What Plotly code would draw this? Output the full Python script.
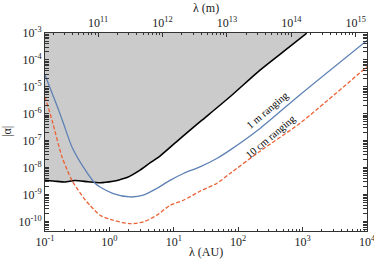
import math
import plotly.graph_objects as go

AU_M = 1.495978707e11

# Excluded region boundary (black)
bound_au = [0.1, 0.143, 0.205, 0.292, 0.466, 0.715, 1.14, 1.46, 1.88, 2.99, 4.27, 6.1,
            11.1, 17.9, 27.4, 74.6, 218, 497, 1160]
bound_alpha = [3.4e-9, 3.15e-9, 2.96e-9, 3.34e-9, 3.0e-9, 2.77e-9, 3.15e-9, 3.6e-9, 4.3e-9,
               8.1e-9, 1.5e-8, 2.7e-8, 9.3e-8, 2.48e-7, 5.8e-7, 4.3e-6, 4.2e-5, 2.0e-4, 9.8e-4]

# 1 m ranging (blue)
m1_au = [0.1, 0.1285, 0.163, 0.205, 0.262, 0.423, 0.604, 0.715, 1.15, 2.09, 3.36, 5.42,
         8.73, 14.1, 25.5, 46.4, 74.6, 218, 912, 10000]
m1_alpha = [2.75e-5, 5.9e-6, 1.37e-6, 2.95e-7, 5.9e-8, 8.1e-9, 2.6e-9, 1.93e-9, 1.1e-9,
            8.2e-10, 9.5e-10, 1.69e-9, 3.4e-9, 6.1e-9, 1.07e-8, 2.2e-8, 4.5e-8, 2.86e-7,
            5.1e-6, 5.3e-4]

# 10 cm ranging (orange dashed)
cm10_au = [0.1, 0.1285, 0.184, 0.262, 0.423, 0.5, 0.715, 1.15, 2.09, 3.36, 5.42, 8.73,
           14.1, 25.5, 46.4, 74.6, 218, 912, 10000]
cm10_alpha = [4.3e-6, 5.8e-7, 2.5e-8, 3.4e-9, 6.2e-10, 4.0e-10, 1.71e-10, 1.12e-10, 8.4e-11,
              9.7e-11, 1.71e-10, 4.0e-10, 6.2e-10, 1.34e-9, 2.6e-9, 6.1e-9, 4.1e-8, 4.5e-7,
              5.6e-5]

# Ticks
x_ticks = [0.1, 1, 10, 100, 1000, 10000]
x_ticktext = ["10<sup>-1</sup>", "10<sup>0</sup>", "10<sup>1</sup>", "10<sup>2</sup>",
              "10<sup>3</sup>", "10<sup>4</sup>"]
xm_ticks = [1e11, 1e12, 1e13, 1e14, 1e15]
xm_ticktext = ["10<sup>11</sup>", "10<sup>12</sup>", "10<sup>13</sup>", "10<sup>14</sup>",
               "10<sup>15</sup>"]
y_ticks = [1e-3, 1e-4, 1e-5, 1e-6, 1e-7, 1e-8, 1e-9, 1e-10]
y_ticktext = ["10<sup>-3</sup>", "10<sup>-4</sup>", "10<sup>-5</sup>", "10<sup>-6</sup>",
              "10<sup>-7</sup>", "10<sup>-8</sup>", "10<sup>-9</sup>", "10<sup>-10</sup>"]

Y_TOP = 1e-3
Y_BOTTOM_LOG = -10.35

FONT = "Liberation Serif"
AXC = "#333333"
TXT = "#222222"
GRAY = "#cbcbcb"
BLUE = "#5E81B5"
ORANGE = "#EB6235"


def minor_vals(lo_exp, hi_exp):
    return [m * 10.0 ** e for e in range(lo_exp, hi_exp) for m in range(2, 10)]


fig = go.Figure()

# gray excluded region
fill_x = bound_au + [bound_au[-1], bound_au[0]]
fill_y = bound_alpha + [Y_TOP * 2, Y_TOP * 2]
fig.add_trace(go.Scatter(x=fill_x, y=fill_y, mode="lines", fill="toself",
                         fillcolor=GRAY, line=dict(width=0), hoverinfo="skip",
                         showlegend=False))
fig.add_trace(go.Scatter(x=bound_au, y=bound_alpha, mode="lines",
                         line=dict(color="black", width=1.6, shape="spline", smoothing=0.6),
                         showlegend=False))
fig.add_trace(go.Scatter(x=m1_au, y=m1_alpha, mode="lines",
                         line=dict(color=BLUE, width=1.3, shape="spline", smoothing=0.7),
                         showlegend=False))
fig.add_trace(go.Scatter(x=cm10_au, y=cm10_alpha, mode="lines",
                         line=dict(color=ORANGE, width=1.3, dash="4px,2px",
                                   shape="spline", smoothing=0.7),
                         showlegend=False))
# invisible trace for the top (metres) axis
fig.add_trace(go.Scatter(x=[a * AU_M for a in bound_au], y=bound_alpha, xaxis="x2",
                         mode="lines", line=dict(width=0), opacity=0,
                         hoverinfo="skip", showlegend=False))

tickfont = dict(family=FONT, size=12, color=TXT)

fig.update_layout(
    width=374, height=264,
    margin=dict(l=45, r=7, t=33, b=33, autoexpand=False),
    paper_bgcolor="white", plot_bgcolor="white",
    font=dict(family=FONT, size=12, color=TXT),
    hovermode=False,
    xaxis=dict(type="log", range=[-1, 4], tickmode="array", tickvals=x_ticks,
               ticktext=x_ticktext, ticks="inside", ticklen=4, tickwidth=1,
               tickcolor=AXC, showline=True, linecolor=AXC, linewidth=1,
               showgrid=False, zeroline=False, tickfont=tickfont, automargin=False,
               ticklabeloverflow="allow",
               minor=dict(tickmode="array", tickvals=minor_vals(-1, 4), ticks="inside",
                          ticklen=2, tickcolor=AXC, showgrid=False)),
    xaxis2=dict(type="log", overlaying="x", side="top",
                range=[math.log10(0.1 * AU_M), math.log10(1e4 * AU_M)],
                tickmode="array", tickvals=xm_ticks, ticktext=xm_ticktext,
                ticks="inside", ticklen=4, tickwidth=1, tickcolor=AXC,
                showline=True, linecolor=AXC, linewidth=1, showgrid=False,
                zeroline=False, tickfont=tickfont, automargin=False,
                ticklabeloverflow="allow",
                minor=dict(tickmode="array", tickvals=minor_vals(10, 16), ticks="inside",
                           ticklen=2, tickcolor=AXC, showgrid=False)),
    yaxis=dict(type="log", range=[Y_BOTTOM_LOG, -3], tickmode="array", tickvals=y_ticks,
               ticktext=y_ticktext, ticks="inside", ticklen=4, tickwidth=1,
               tickcolor=AXC, showline=True, linecolor=AXC, linewidth=1, mirror="allticks",
               showgrid=False, zeroline=False, tickfont=tickfont, automargin=False,
               ticklabeloverflow="allow",
               minor=dict(tickmode="array", tickvals=minor_vals(-11, -3), ticks="inside",
                          ticklen=2, tickcolor=AXC, showgrid=False)),
    annotations=[
        dict(x=math.log10(280), y=math.log10(1.35e-6), xref="x", yref="y",
             text="1 m ranging", showarrow=False, textangle=-40,
             font=dict(family=FONT, size=10.5, color="black")),
        dict(x=math.log10(320), y=math.log10(1.45e-7), xref="x", yref="y",
             text="10 cm ranging", showarrow=False, textangle=-40,
             font=dict(family=FONT, size=10.5, color="black")),
        dict(x=0.5, y=1, xref="paper", yref="paper", xanchor="center", yanchor="middle",
             yshift=25, text="λ (m)",
             showarrow=False, font=dict(family=FONT, size=12, color=TXT)),
        dict(x=0.5, y=0, xref="paper", yref="paper", xanchor="center", yanchor="middle",
             yshift=-21, text="λ (AU)",
             showarrow=False, font=dict(family=FONT, size=12, color=TXT)),
        dict(x=0, y=0.5, xref="paper", yref="paper", xanchor="center", yanchor="middle",
             xshift=-38, text="|α|",
             textangle=-90, showarrow=False, font=dict(family=FONT, size=12, color=TXT)),
    ],
)

fig.write_html("out.html", config={"displayModeBar": False, "staticPlot": True},
               post_script="document.body.style.margin='0';")
